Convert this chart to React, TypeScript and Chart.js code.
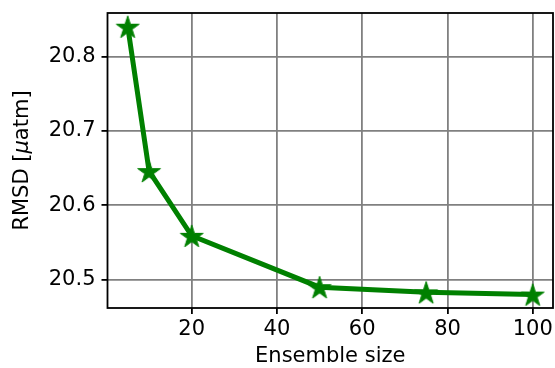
import React, { useEffect, useRef } from "react";
import { Chart, registerables } from "chart.js";

Chart.register(...registerables);

const ensembleSizes = [5, 10, 20, 50, 75, 100];
const rmsdValues = [20.84, 20.646, 20.559, 20.49, 20.483, 20.48];
const xTicks = [20, 40, 60, 80, 100];
const yTicks = [20.5, 20.6, 20.7, 20.8];
const xLabel = "Ensemble size";
const yLabel = "RMSD [μatm]";

const GREEN = "#008000";
const FONT = "'DejaVu Sans', sans-serif";
const FS = 21;

function makeStar(R: number): HTMLCanvasElement {
  const size = Math.ceil(2 * R + 4);
  const c = document.createElement("canvas");
  c.width = size;
  c.height = size;
  const ctx = c.getContext("2d")!;
  const cx = size / 2;
  const cy = size / 2 + R * 0.1;
  const r = R * 0.382;
  ctx.beginPath();
  for (let i = 0; i < 10; i++) {
    const rad = i % 2 === 0 ? R : r;
    const a = -Math.PI / 2 + (i * Math.PI) / 5;
    const x = cx + rad * Math.cos(a);
    const y = cy + rad * Math.sin(a);
    if (i === 0) ctx.moveTo(x, y);
    else ctx.lineTo(x, y);
  }
  ctx.closePath();
  ctx.fillStyle = GREEN;
  ctx.fill();
  ctx.lineWidth = 1;
  ctx.strokeStyle = GREEN;
  ctx.stroke();
  return c;
}

const framePlugin = {
  id: "frame",
  afterDatasetsDraw(chart: any) {
    const { ctx, chartArea } = chart;
    ctx.save();
    ctx.strokeStyle = "#000";
    ctx.lineWidth = 1.8;
    ctx.strokeRect(
      chartArea.left,
      chartArea.top,
      chartArea.right - chartArea.left,
      chartArea.bottom - chartArea.top
    );
    ctx.restore();
  },
  afterDraw(chart: any) {
    const { ctx, chartArea } = chart;
    ctx.save();
    ctx.fillStyle = "#000";
    const parts = [
      { t: "RMSD [", f: `${FS}px ${FONT}` },
      { t: "μ", f: `italic ${FS}px ${FONT}` },
      { t: "atm]", f: `${FS}px ${FONT}` },
    ];
    let total = 0;
    for (const p of parts) {
      ctx.font = p.f;
      total += ctx.measureText(p.t).width;
    }
    const cy = (chartArea.top + chartArea.bottom) / 2;
    ctx.translate(23, cy);
    ctx.rotate(-Math.PI / 2);
    ctx.textBaseline = "middle";
    ctx.textAlign = "left";
    let x = -total / 2;
    for (const p of parts) {
      ctx.font = p.f;
      ctx.fillText(p.t, x, 0);
      x += ctx.measureText(p.t).width;
    }
    ctx.restore();
    ctx.save();
    ctx.fillStyle = "#000";
    ctx.font = `${FS}px ${FONT}`;
    ctx.textAlign = "center";
    ctx.textBaseline = "middle";
    ctx.fillText(xLabel, (chartArea.left + chartArea.right) / 2, 357);
    ctx.restore();
  },
};

export default function App() {
  const ref = useRef<HTMLCanvasElement>(null);
  useEffect(() => {
    document.body.style.margin = "0";
    const star = makeStar(12);
    const chart = new Chart(ref.current!, {
      type: "line",
      data: {
        datasets: [
          {
            label: yLabel,
            data: ensembleSizes.map((x, i) => ({ x, y: rmsdValues[i] })),
            borderColor: GREEN,
            backgroundColor: GREEN,
            borderWidth: 5,
            pointStyle: star as any,
            pointRadius: 12,
            pointHoverRadius: 12,
            tension: 0,
            clip: false as any,
          },
        ],
      },
      options: {
        animation: false,
        responsive: false,
        events: [],
        layout: { autoPadding: false, padding: { top: 13, right: 2, left: 0, bottom: 0 } },
        plugins: {
          legend: { display: false },
          tooltip: { enabled: false },
        },
        scales: {
          x: {
            type: "linear",
            min: 0.25,
            max: 104.75,
            afterBuildTicks: (s: any) => {
              s.ticks = xTicks.map((v) => ({ value: v }));
            },
            afterFit: (s: any) => {
              s.height = 60;
              s.paddingLeft = 0;
              s.paddingRight = 0;
            },
            grid: {
              color: "#808080",
              lineWidth: 1.8,
              tickColor: "#000",
              tickLength: 6,
              drawOnChartArea: true,
            },
            border: { display: false },
            ticks: {
              color: "#000",
              font: { family: FONT, size: FS },
              padding: 3,
              maxRotation: 0,
              autoSkip: false,
            },
          },
          y: {
            type: "linear",
            min: 20.462,
            max: 20.8584,
            afterBuildTicks: (s: any) => {
              s.ticks = yTicks.map((v) => ({ value: v }));
            },
            afterFit: (s: any) => {
              s.width = 107.5;
              s.paddingTop = 0;
              s.paddingBottom = 0;
            },
            grid: {
              color: "#808080",
              lineWidth: 1.8,
              tickColor: "#000",
              tickLength: 6,
            },
            border: { display: false },
            ticks: {
              color: "#000",
              font: { family: FONT, size: FS },
              padding: 6,
              autoSkip: false,
              callback: (v: any) => Number(v).toFixed(1),
            },
          },
        },
      },
      plugins: [framePlugin],
    });
    return () => chart.destroy();
  }, []);
  return (
    <div style={{ position: "absolute", left: 0, top: 0, width: 555, height: 368 }}>
      <canvas ref={ref} width={555} height={368} style={{ width: 555, height: 368 }} />
    </div>
  );
}
